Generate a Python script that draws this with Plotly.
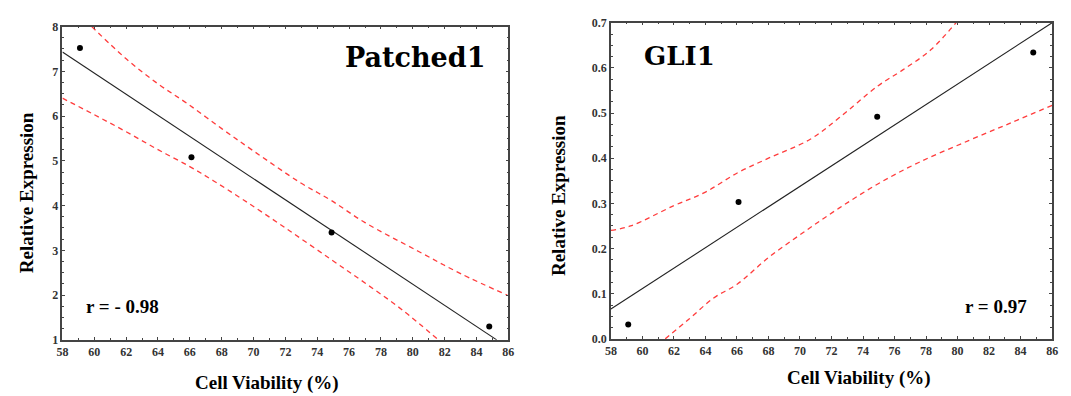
import plotly.graph_objects as go

# ---- data ----
viability = [59.1, 66.1, 74.9, 84.8]
ptch1_expr = [7.52, 5.08, 3.40, 1.30]
gli1_expr = [0.032, 0.303, 0.492, 0.634]

# regression line end points
ptch1_fit_x = [58.0, 85.27]
ptch1_fit_y = [7.43, 1.0]
gli1_fit_x = [58.0, 86.0]
gli1_fit_y = [0.066, 0.70]

# confidence bands
ptch1_up_x = [59.84, 62.0, 64.0, 65.84, 68.0, 70.0, 72.9, 74.85, 77.0, 80.34, 83.0, 85.93]
ptch1_up_y = [8.0, 7.28, 6.72, 6.28, 5.72, 5.22, 4.52, 4.12, 3.62, 2.98, 2.48, 2.0]
ptch1_lo_x = [58.0, 60.0, 62.0, 64.0, 65.95, 67.5, 69.4, 72.0, 74.85, 77.0, 79.3, 81.6]
ptch1_lo_y = [6.4, 6.03, 5.65, 5.25, 4.88, 4.55, 4.12, 3.5, 2.8, 2.27, 1.68, 1.0]

gli1_up_x = [58.0, 59.25, 62.0, 64.0, 66.05, 68.0, 70.65, 72.5, 74.94, 76.5, 78.3, 79.9]
gli1_up_y = [0.24, 0.25, 0.295, 0.325, 0.368, 0.40, 0.442, 0.49, 0.56, 0.595, 0.64, 0.70]
gli1_lo_x = [61.45, 63.0, 64.5, 66.05, 68.0, 70.23, 72.5, 74.94, 77.5, 80.7, 83.5, 86.0]
gli1_lo_y = [0.0, 0.045, 0.09, 0.122, 0.18, 0.236, 0.29, 0.343, 0.39, 0.439, 0.48, 0.517]

x_ticks = list(range(58, 88, 2))
ptch1_yticks = [1, 2, 3, 4, 5, 6, 7, 8]
gli1_yticks = [0.0, 0.1, 0.2, 0.3, 0.4, 0.5, 0.6, 0.7]
gli1_yticklabels = ["0.0", "0.1", "0.2", "0.3", "0.4", "0.5", "0.6", "0.7"]

# page body has an 8px margin: the figure is shrunk and offset to compensate
OFF = 8
W, H = 1071 - OFF, 396 - OFF
RED = "rgb(255,60,60)"
SERIF = "Liberation Serif, Times New Roman, serif"


def fx(px):
    return (px - OFF) / W


def fy(py):
    return 1 - (py - OFF) / H


fig = go.Figure()


def add_panel(xa, ya, lx_, ly_, ux, uy, lox, loy, py):
    for bx, by in ((ux, uy), (lox, loy)):
        fig.add_trace(go.Scatter(x=bx, y=by, mode="lines",
                                 line=dict(color=RED, width=1.3, dash="5px,4px"),
                                 line_shape="spline", xaxis=xa, yaxis=ya,
                                 showlegend=False, hoverinfo="skip"))
    fig.add_trace(go.Scatter(x=lx_, y=ly_, mode="lines", line=dict(color="#222", width=1.1),
                             xaxis=xa, yaxis=ya, showlegend=False))
    fig.add_trace(go.Scatter(x=viability, y=py, mode="markers", marker=dict(color="black", size=6),
                             xaxis=xa, yaxis=ya, showlegend=False))


add_panel("x", "y", ptch1_fit_x, ptch1_fit_y, ptch1_up_x, ptch1_up_y, ptch1_lo_x, ptch1_lo_y, ptch1_expr)
add_panel("x2", "y2", gli1_fit_x, gli1_fit_y, gli1_up_x, gli1_up_y, gli1_lo_x, gli1_lo_y, gli1_expr)

tickfont = dict(family=SERIF, size=12, color="#333", weight="bold")
axis_common = dict(showline=True, linecolor="#444", linewidth=1.5, mirror="allticks",
                   ticks="inside", ticklen=3, tickcolor="#444", tickwidth=1,
                   showgrid=False, zeroline=False, tickfont=tickfont)
minor = dict(ticks="inside", ticklen=2, tickcolor="#444", tickwidth=1)

fig.update_layout(
    width=W, height=H,
    margin=dict(l=0, r=0, t=0, b=0),
    paper_bgcolor="white", plot_bgcolor="white",
    xaxis=dict(domain=[fx(57), fx(508)], range=[58, 86], tickvals=x_ticks, anchor="y",
               minor=dict(minor, dtick=1), **axis_common),
    yaxis=dict(domain=[fy(345), fy(20)], range=[1, 8], tickvals=ptch1_yticks, anchor="x",
               minor=dict(minor, dtick=0.25, tick0=1), **axis_common),
    xaxis2=dict(domain=[fx(611.7), fx(1058)], range=[58, 86], tickvals=x_ticks, anchor="y2",
                minor=dict(minor, dtick=1), **axis_common),
    yaxis2=dict(domain=[fy(344), fy(16)], range=[0, 0.7], tickvals=gli1_yticks,
                ticktext=gli1_yticklabels, anchor="x2",
                minor=dict(minor, dtick=0.025, tick0=0), **axis_common),
)


def px_ann(text, x, y, size, family=SERIF, angle=0, color="black"):
    fig.add_annotation(text=text, x=fx(x), y=fy(y), xref="paper", yref="paper",
                       showarrow=False, textangle=angle, xanchor="center", yanchor="middle",
                       font=dict(family=family, size=size, color=color, weight="bold"))


px_ann("Patched1", 414, 52, 27, family="DejaVu Serif")
px_ann("GLI1", 681, 51, 26, family="DejaVu Serif")
px_ann("r = - 0.98", 118, 310, 19)
px_ann("r = 0.97", 1001, 310, 19)
px_ann("Cell Viability (%)", 264, 390, 19)
px_ann("Cell Viability (%)", 863, 385, 19)
px_ann("Relative Expression", 20, 192, 19, angle=-90)
px_ann("Relative Expression", 558, 195, 19, angle=-90)

fig.write_html("out.html")
